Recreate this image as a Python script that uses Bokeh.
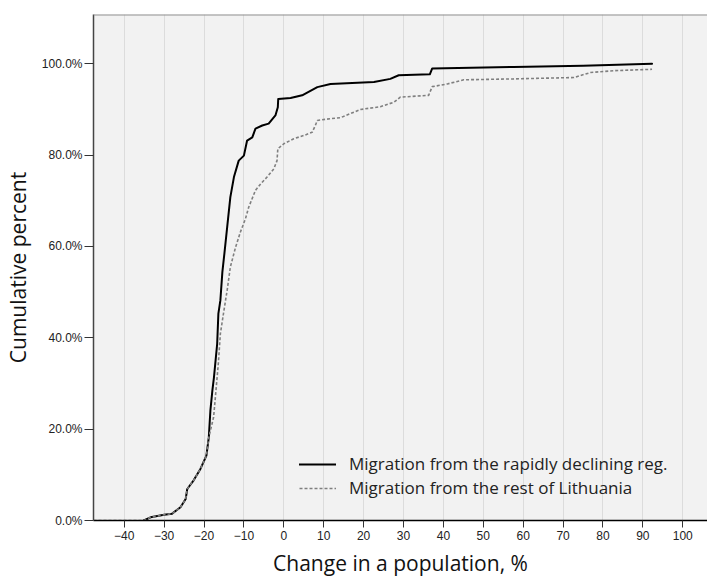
from bokeh.plotting import figure
from bokeh.models import Range1d, FixedTicker, PrintfTickFormatter, Legend, LegendItem, Span
from bokeh.embed import file_html
from bokeh.resources import INLINE

# ---- data ----
x_ticks = [-40, -30, -20, -10, 0, 10, 20, 30, 40, 50, 60, 70, 80, 90, 100]
y_ticks = [0, 20, 40, 60, 80, 100]

declining_x = [-35.1, -33.4, -30.0, -28.0, -25.9, -24.6, -24.2, -22.6, -20.9, -19.4,
               -18.8, -18.4, -17.9, -17.5, -16.7, -16.4, -15.9, -15.4, -14.9, -14.2,
               -13.4, -12.5, -11.3, -10.0, -9.2, -7.9, -7.1, -5.4, -3.8, -2.1,
               -1.5, -1.4, 1.7, 4.6, 8.4, 11.7, 22.6, 26.7, 28.8, 36.6,
               37.2, 57.6, 75.0, 92.3]
declining_y = [0.0, 0.7, 1.25, 1.5, 2.9, 4.7, 6.9, 8.8, 11.3, 14.2,
               18.2, 24.1, 28.5, 31.4, 38.7, 45.3, 48.2, 54.4, 58.4, 64.2,
               70.8, 75.2, 78.8, 79.9, 83.2, 83.9, 85.8, 86.5, 86.9, 88.7,
               90.5, 92.3, 92.5, 93.1, 94.9, 95.6, 96.0, 96.7, 97.5, 97.7,
               99.0, 99.3, 99.6, 100.0]

rest_x = [-47.7, -35.1, -33.4, -30.0, -28.0, -25.9, -24.6, -24.2, -22.6, -20.9,
          -19.4, -18.8, -17.6, -17.0, -16.4, -15.9, -15.0, -14.2, -13.4, -12.1,
          -10.9, -9.6, -8.8, -7.1, -5.8, -4.2, -2.5, -1.7, -1.5, 0.0,
          2.5, 5.0, 7.1, 7.9, 8.4, 11.7, 14.2, 19.2, 24.2, 27.6,
          29.2, 36.3, 37.2, 41.0, 45.1, 57.6, 72.7, 76.9, 82.7, 92.3]
rest_y = [0.0, 0.0, 0.7, 1.25, 1.5, 2.9, 4.7, 6.9, 8.8, 11.3,
          14.2, 18.2, 22.6, 28.5, 34.5, 40.9, 46.0, 50.4, 55.5, 59.8,
          63.1, 66.1, 68.6, 72.3, 73.7, 75.2, 77.0, 78.8, 81.4, 82.5,
          83.6, 84.3, 85.0, 86.5, 87.6, 88.0, 88.2, 90.0, 90.6, 91.6,
          92.7, 93.1, 95.0, 95.6, 96.5, 96.7, 97.0, 98.1, 98.5, 98.8]

series_labels = ["Migration from the rapidly declining reg.",
                 "Migration from the rest of Lithuania"]
x_title = "Change in a population, %"
y_title = "Cumulative percent"

Y_TOP = 110.8

# ---- figure ----
p = figure(width=707, height=580, output_backend="svg", toolbar_location=None,
           x_range=Range1d(-47.7, 106.2), y_range=Range1d(0, Y_TOP),
           min_border_top=14, min_border_left=93, min_border_right=0, min_border_bottom=60)

p.background_fill_color = "#f2f2f2"
p.border_fill_color = "white"
p.outline_line_color = None

p.xgrid.ticker = FixedTicker(ticks=x_ticks)
p.xgrid.grid_line_color = "#dcdcdc"
p.xgrid.grid_line_width = 1
p.ygrid.grid_line_color = None

p.xaxis.ticker = FixedTicker(ticks=x_ticks)
p.yaxis.ticker = FixedTicker(ticks=y_ticks)
p.yaxis.formatter = PrintfTickFormatter(format="%.1f%%")

for ax in (p.xaxis, p.yaxis):
    ax.minor_tick_line_color = None
    ax.major_tick_in = 0
    ax.major_label_text_font = "Liberation Sans"
    ax.major_label_text_font_size = "12px"
    ax.major_label_text_color = "#222222"
    ax.axis_label_text_font = "Open Sans"
    ax.axis_label_text_font_size = "21px"
    ax.axis_label_text_font_style = "normal"
    ax.axis_label_text_color = "#111111"
    ax.major_tick_line_color = "#333333"

p.xaxis.axis_line_color = "black"
p.xaxis.axis_line_width = 1.5
p.xaxis.major_tick_out = 7
p.xaxis.major_label_standoff = 3
p.xaxis.axis_label = x_title
p.xaxis.axis_label_standoff = 6

p.yaxis.axis_line_color = "#444444"
p.yaxis.axis_line_width = 1.5
p.yaxis.major_tick_out = 9
p.yaxis.major_label_standoff = 2
p.yaxis.axis_label = y_title
p.yaxis.axis_label_standoff = 7

# top frame border
p.add_layout(Span(location=Y_TOP, dimension="width", line_color="#909090", line_width=2))

r1 = p.line(declining_x, declining_y, line_color="black", line_width=2,
            line_join="round", line_cap="round")
r2 = p.line(rest_x, rest_y, line_color="#7f7f7f", line_width=1.6,
            line_dash="3 2")


def make_legend(label, renderer, loc):
    lg = Legend(items=[LegendItem(label=label, renderers=[renderer])], location=loc)
    lg.background_fill_alpha = 0
    lg.border_line_color = None
    lg.padding = 0
    lg.margin = 0
    lg.glyph_width = 37
    lg.glyph_height = 20
    lg.label_height = 20
    lg.label_standoff = 13
    lg.label_text_font = "Open Sans"
    lg.label_text_font_size = "17px"
    lg.label_text_color = "#222222"
    return lg


p.add_layout(make_legend(series_labels[0], r1, (206, 45)))
p.add_layout(make_legend(series_labels[1], r2, (206, 21)))

open("out.html", "w").write(file_html(p, INLINE))
